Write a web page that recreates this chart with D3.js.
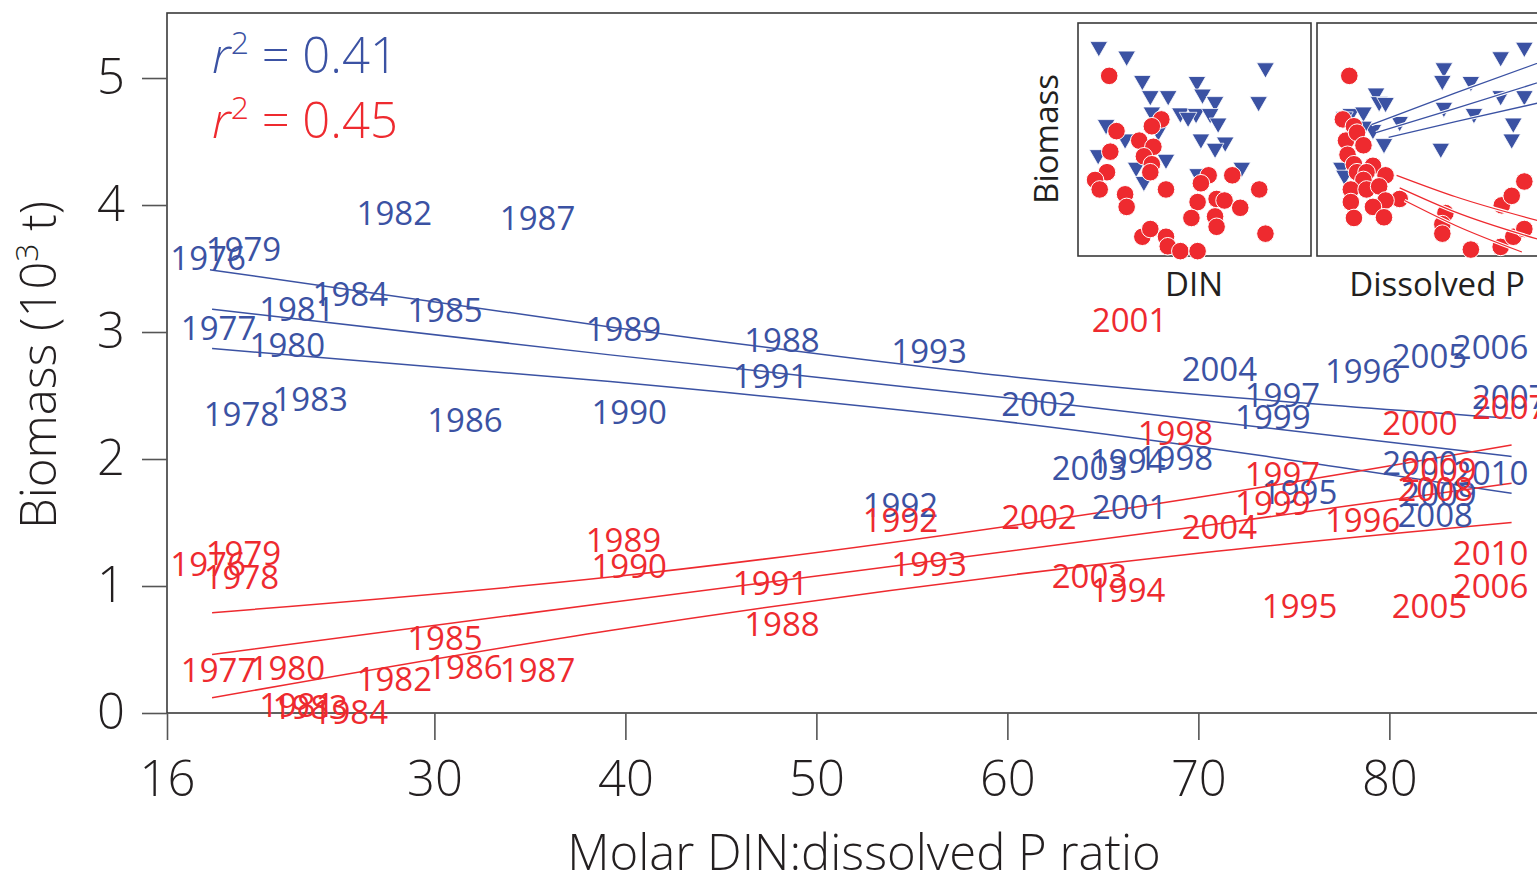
<!DOCTYPE html>
<html lang="en">
<head>
<meta charset="UTF-8">
<script src="https://d3js.org/d3.v7.min.js"></script>
<title>Biomass vs DIN:P</title>
<style>
  body { margin: 0; background: #fff; }
  svg text { font-family: "Open Sans", "Noto Sans", sans-serif; }
</style>
</head>
<body>
<svg id="svg" width="1537" height="875"></svg>
<script>
// ---- data ----
var years = [1976,1977,1978,1979,1980,1981,1982,1983,1984,1985,1986,1987,1988,1989,1990,1991,1992,1993,
             1994,1995,1996,1997,1998,1999,2000,2001,2002,2003,2004,2005,2006,2007,2008,2009,2010];
// molar DIN:dissolved P ratio per year (shared by both series)
var ratio = [18.15,18.7,19.9,20.0,22.3,22.8,27.9,23.5,25.6,30.55,31.6,35.4,48.2,39.9,40.2,47.6,54.4,55.9,
             66.3,75.3,78.6,74.4,68.8,73.9,81.6,66.4,61.65,64.3,71.1,82.1,85.3,86.3,82.4,82.6,85.3];
// blue series biomass (10^3 t)
var blueBiomass = [3.58,3.03,2.35,3.65,2.90,3.18,3.94,2.47,3.30,3.17,2.31,3.90,2.94,3.02,2.37,2.65,1.64,2.85,
                   1.98,1.74,2.69,2.50,2.01,2.33,1.97,1.62,2.43,1.93,2.71,2.81,2.88,2.49,1.56,1.72,1.89];
// red series biomass (10^3 t)
var redBiomass = [1.17,0.34,1.07,1.26,0.35,0.06,0.27,0.05,0.01,0.59,0.36,0.34,0.70,1.36,1.16,1.02,1.52,1.17,
                  0.97,0.84,1.52,1.88,2.20,1.65,2.28,3.09,1.54,1.08,1.46,0.84,1.00,2.41,1.76,1.91,1.26];

// fitted lines (x, y)
var blueFits = [
  [[18.25,3.49],[39.2,3.04],[60.7,2.64],[86.4,2.32]],
  [[18.36,3.18],[39.2,2.82],[60.7,2.47],[86.4,2.02]],
  [[18.36,2.87],[39.2,2.61],[60.7,2.28],[86.4,1.73]]
];
var redFits = [
  [[18.36,0.79],[39.2,1.07],[70.1,1.70],[86.4,2.11]],
  [[18.36,0.46],[39.2,0.87],[70.1,1.47],[86.4,1.81]],
  [[18.36,0.12],[39.2,0.65],[70.1,1.26],[86.4,1.50]]
];

var r2Blue = "0.41", r2Red = "0.45";
var xTicks = [16,30,40,50,60,70,80];
var yTicks = [0,1,2,3,4,5];

// inset panels (relative units 0-100)
var dinBlue = [[6.7,92.9],[19.3,88.6],[82.1,83.3],[26.4,77.6],[51.1,77.1],[30,70.7],[38.1,70.7],[53.6,71.4],
  [59.3,68],[79,68],[30.7,63.3],[43.6,62.9],[50.7,62.6],[57.1,62.6],[47.1,60.9],[60.7,58.3],[10,57.6],
  [52.9,51.1],[63.9,49.7],[59.3,46.9],[18.6,51.1],[6.4,44],[37.1,41.9],[23.6,38.3],[71.4,38.3],[27.1,31.9],
  [51.4,35.4],[33.6,54.7]];
var dinRed = [[11.4,79.7],[35,60],[30.7,56.9],[14.7,54.7],[25,50.4],[31.4,47.6],[11.9,45.4],[27.1,43.3],
  [30.7,39.7],[30,36.1],[10.4,36.1],[5,32.6],[7.1,28.3],[37.1,28.3],[18.6,26.1],[19.3,20.4],[56.4,34.7],
  [67.1,34.7],[52.9,31.1],[79.3,28.3],[51.4,22.6],[60,24],[63.6,23.3],[70.7,20],[48.6,15.4],[59.3,16.1],
  [60,11.4],[82.1,8.3],[26.4,6.9],[30,10.4],[37.1,6.9],[37.9,2.6],[43.6,0.4],[51.4,0.4]];
var dipBlue = [[91.1,92.6],[80.4,88.3],[54.7,83.3],[54,77.6],[66.9,77.1],[24,71.9],[25.4,68],[28.3,67.6],
  [54.7,65.4],[80.4,70.7],[91.1,70.7],[68.3,62.6],[34.7,59],[22.6,55.4],[27.6,49],[53.3,46.9],[86.1,58.3],
  [85.4,51.1],[12.6,62.6],[18.3,63.3],[9.7,61.1],[8.3,38.3],[9.7,34.7],[18.3,56.9]];
var dipRed = [[11.9,79.7],[9,60],[14,56.9],[10.4,50.4],[15.4,54],[18.3,48.3],[11.1,44],[14,39.7],[22.6,39],
  [15.4,36.1],[19.7,36.1],[28.3,34.7],[18.3,32.6],[12.6,28.3],[19.7,28.3],[25.4,29.7],[34.7,24],[28.3,23.3],
  [12.6,22.6],[22.6,20.4],[14,15.4],[27.6,15.7],[55.4,17.6],[54,12.6],[54,8.3],[66.9,1.1],[80.4,2.3],
  [86.1,6.9],[91.1,10.4],[80.9,21.1],[85.4,25.4],[91.1,31.9]];
var dipBlueFits = [[[21.9,57.6],[60,72],[100,86.5]],[[24,54],[60,65],[100,77.5]],[[29.7,51.9],[60,59],[100,68]]];
var dipRedFits = [[[33.3,34.7],[60,25],[100,13.5]],[[34.7,29],[60,18],[100,5]],[[36.9,23.3],[60,12],[90,0]]];

var BLUE = "#3b52a3", RED = "#ee2a2f", INK = "#231f20";

var svg = d3.select("#svg");
var x = d3.scaleLinear().domain([16, 87.73]).range([167, 1537]);
var y = d3.scaleLinear().domain([0, 5.512]).range([713, 13]);

// plot frame
svg.append("rect")
  .attr("x", x(16)).attr("y", y(5.512))
  .attr("width", 1600 - x(16)).attr("height", y(0) - y(5.512))
  .attr("fill", "none").attr("stroke", "#3a3a3a").attr("stroke-width", 1.6);

// axes
var xAxis = svg.append("g").attr("transform", "translate(0," + y(0) + ")")
  .call(d3.axisBottom(x).tickValues(xTicks).tickSize(27).tickPadding(21).tickFormat(d3.format("d")));
var yAxis = svg.append("g").attr("transform", "translate(" + x(16) + ",0)")
  .call(d3.axisLeft(y).tickValues(yTicks).tickSize(25).tickPadding(17).tickFormat(d3.format("d")));
[xAxis, yAxis].forEach(function (g) {
  g.select(".domain").remove();
  g.selectAll(".tick line").attr("stroke", "#555").attr("stroke-width", 1.6);
  g.selectAll(".tick text").attr("fill", INK).style("font-size", "49px").style("font-weight", 300);
});

// axis titles
svg.append("text")
  .attr("x", 864).attr("y", 870)
  .attr("text-anchor", "middle").attr("fill", INK)
  .style("font-size", "49px").style("font-weight", 300)
  .text("Molar DIN:dissolved P ratio");

var yt = svg.append("text")
  .attr("transform", "translate(56,365) rotate(-90)")
  .attr("text-anchor", "middle").attr("fill", INK)
  .style("font-size", "49px").style("font-weight", 300);
yt.append("tspan").text("Biomass (10");
yt.append("tspan").attr("dy", -18).style("font-size", "32px").text("3");
yt.append("tspan").attr("dy", 18).text(" t)");

// fitted lines
var line = d3.line().x(d => x(d[0])).y(d => y(d[1])).curve(d3.curveMonotoneX);
blueFits.forEach(function (f) {
  svg.append("path").datum(f).attr("d", line)
    .attr("fill", "none").attr("stroke", BLUE).attr("stroke-width", 1.5);
});
redFits.forEach(function (f) {
  svg.append("path").datum(f).attr("d", line)
    .attr("fill", "none").attr("stroke", RED).attr("stroke-width", 1.5);
});

// year labels
function yearLabels(values, color) {
  svg.append("g").selectAll("text").data(years).enter().append("text")
    .attr("x", (d, i) => x(ratio[i]))
    .attr("y", (d, i) => y(values[i]))
    .attr("dy", "0.36em")
    .attr("text-anchor", "middle")
    .attr("fill", color)
    .style("font-size", "33px")
    .text(d => d);
}
yearLabels(blueBiomass, BLUE);
yearLabels(redBiomass, RED);

// r^2 labels
function r2(val, color, yy) {
  var t = svg.append("text").attr("x", 212).attr("y", yy).attr("fill", color)
    .style("font-size", "49px").style("font-weight", 300);
  t.append("tspan").style("font-style", "italic").text("r");
  t.append("tspan").attr("dy", -19).style("font-size", "32px").text("2");
  t.append("tspan").attr("dy", 19).text(" = " + val);
}
r2(r2Blue, BLUE, 73);
r2(r2Red, RED, 138);

// insets
var clip = svg.append("defs");
function inset(px, id, blues, reds, bFits, rFits) {
  var w = 233, h = 233, top = 23;
  clip.append("clipPath").attr("id", id).append("rect")
    .attr("x", px).attr("y", top).attr("width", w).attr("height", h + 10);
  var sx = d3.scaleLinear().domain([0, 100]).range([px + 6, px + w - 6]);
  var sy = d3.scaleLinear().domain([0, 100]).range([top + h - 4, top + 8]);
  svg.append("rect").attr("x", px).attr("y", top).attr("width", w).attr("height", h)
    .attr("fill", "#fff").attr("stroke", "#3a3a3a").attr("stroke-width", 1.6);
  var g = svg.append("g").attr("clip-path", "url(#" + id + ")");
  var l = d3.line().x(d => sx(d[0])).y(d => sy(d[1])).curve(d3.curveMonotoneX);
  g.selectAll(".tri").data(blues).enter().append("path")
    .attr("d", d3.symbol().type(d3.symbolTriangle).size(135))
    .attr("transform", d => "translate(" + sx(d[0]) + "," + sy(d[1]) + ") rotate(180)")
    .attr("fill", BLUE).attr("stroke", "#fff").attr("stroke-width", 0.8);
  bFits.forEach(function (f) {
    g.append("path").datum(f).attr("d", l).attr("fill", "none").attr("stroke", "#fff").attr("stroke-width", 3.5);
    g.append("path").datum(f).attr("d", l).attr("fill", "none").attr("stroke", BLUE).attr("stroke-width", 1.3);
  });
  g.selectAll(".dot").data(reds).enter().append("circle")
    .attr("cx", d => sx(d[0])).attr("cy", d => sy(d[1])).attr("r", 8.8)
    .attr("fill", RED).attr("stroke", "#fff").attr("stroke-width", 1);
  rFits.forEach(function (f) {
    g.append("path").datum(f).attr("d", l).attr("fill", "none").attr("stroke", "#fff").attr("stroke-width", 3.5);
    g.append("path").datum(f).attr("d", l).attr("fill", "none").attr("stroke", RED).attr("stroke-width", 1.3);
  });
}
inset(1078, "clipDin", dinBlue, dinRed, [], []);
inset(1317, "clipDip", dipBlue, dipRed, dipBlueFits, dipRedFits);

svg.append("text").attr("x", 1194).attr("y", 296).attr("text-anchor", "middle")
  .attr("fill", INK).style("font-size", "33px").text("DIN");
svg.append("text").attr("x", 1437).attr("y", 296).attr("text-anchor", "middle")
  .attr("fill", INK).style("font-size", "33px").text("Dissolved P");
svg.append("text").attr("transform", "translate(1058,139) rotate(-90)").attr("text-anchor", "middle")
  .attr("fill", INK).style("font-size", "33px").text("Biomass");
</script>
</body>
</html>
